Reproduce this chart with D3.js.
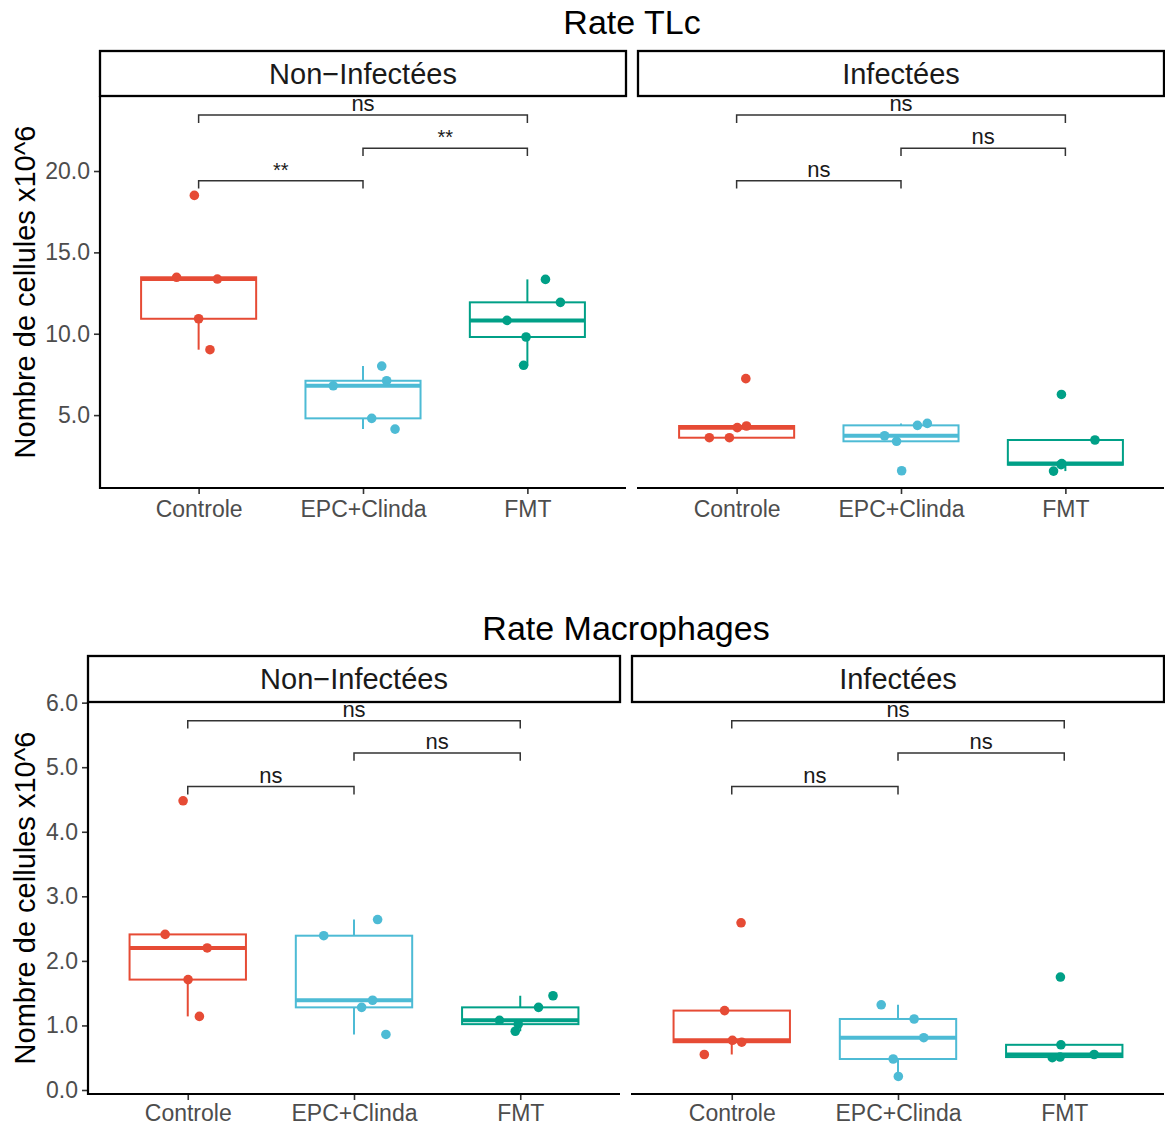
<!DOCTYPE html>
<html><head><meta charset="utf-8">
<script src="https://cdn.jsdelivr.net/npm/d3@7"></script>
<style>
body{margin:0;background:#fff}
svg{display:block}
text{font-family:"Liberation Sans", Arial, sans-serif}
</style>
</head><body>
<svg id="chart" width="1165" height="1129"></svg>
<script>
// ---------- DATA ----------
const categories = ["Controle", "EPC+Clinda", "FMT"];
const facets = ["Non\u2212Infectées", "Infectées"];
const groupColors = ["#E64B35", "#4DBBD5", "#00A087"];

// Rate TLc (x10^6 cells)
const tlcNonInfControle = [18.5, 13.47, 13.36, 10.92, 9.02];
const tlcNonInfEPC      = [8.01, 7.11, 6.80, 4.80, 4.14];
const tlcNonInfFMT      = [13.34, 11.93, 10.82, 9.80, 8.06];
const tlcInfControle    = [7.24, 4.33, 4.23, 3.61, 3.61];
const tlcInfEPC         = [4.49, 4.37, 3.73, 3.39, 1.58];
const tlcInfFMT         = [6.27, 3.47, 2.02, 1.56, 1.95];

// Rate Macrophages (x10^6 cells)
const macNonInfControle = [4.48, 2.41, 2.20, 1.71, 1.14];
const macNonInfEPC      = [2.64, 2.39, 1.39, 1.28, 0.86];
const macNonInfFMT      = [1.46, 1.28, 1.08, 1.02, 0.91];
const macInfControle    = [2.59, 1.23, 0.77, 0.74, 0.55];
const macInfEPC         = [1.32, 1.10, 0.81, 0.48, 0.21];
const macInfFMT         = [1.75, 0.70, 0.55, 0.51, 0.50];

// horizontal jitter of each point (in category units)
const jitterNonInfControle = [-0.026, -0.134, 0.114, 0.000, 0.069];
const jitterNonInfEPC      = [0.114, 0.144, -0.181, 0.053, 0.195];
const jitterNonInfFMT      = [0.110, 0.201, -0.124, -0.008, -0.023];
const jitterInfControle    = [0.056, 0.060, 0.004, -0.166, -0.044];
const jitterInfEPC         = [0.160, 0.100, -0.100, -0.027, 0.004];
const jitterInfFMT         = [-0.024, 0.180, -0.022, -0.072, -0.026];
const jitterMacNonInfControle = [-0.028, -0.136, 0.117, 0.002, 0.070];
const jitterMacNonInfEPC   = [0.142, -0.182, 0.112, 0.046, 0.192];
const jitterMacNonInfFMT   = [0.197, 0.110, -0.125, -0.012, -0.030];
const jitterMacInfControle = [0.056, -0.043, 0.004, 0.060, -0.165];
const jitterMacInfEPC      = [-0.101, 0.097, 0.155, -0.029, 0.002];
const jitterMacInfFMT      = [-0.023, -0.020, 0.180, -0.025, -0.072];

// significance brackets: [from, to, label, y]
const tlcNonInfBrackets = [[0, 2, "ns", 23.44], [1, 2, "**", 21.40], [0, 1, "**", 19.40]];
const tlcInfBrackets    = [[0, 2, "ns", 23.44], [1, 2, "ns", 21.40], [0, 1, "ns", 19.40]];
const macNonInfBrackets = [[0, 2, "ns", 5.72], [1, 2, "ns", 5.22], [0, 1, "ns", 4.70]];
const macInfBrackets    = [[0, 2, "ns", 5.72], [1, 2, "ns", 5.22], [0, 1, "ns", 4.70]];

const tlcTicks = [5, 10, 15, 20];
const macTicks = [0, 1, 2, 3, 4, 5, 6];
const tlcDomain = [0.52, 24.61];
const macDomain = [-0.062, 6.01];
const yTitle = "Nombre de cellules x10^6";

// ---------- CHART DEFINITIONS ----------
const charts = [
  {
    title: "Rate TLc", ticks: tlcTicks, domain: tlcDomain,
    groups: [[tlcNonInfControle, tlcNonInfEPC, tlcNonInfFMT], [tlcInfControle, tlcInfEPC, tlcInfFMT]],
    jitter: [[jitterNonInfControle, jitterNonInfEPC, jitterNonInfFMT], [jitterInfControle, jitterInfEPC, jitterInfFMT]],
    brackets: [tlcNonInfBrackets, tlcInfBrackets],
    L: { titleY: 34, stripTop: 51, top: 96, bottom: 488, panels: [[100, 626], [638, 1164]], yTitleX: 35, tickLabelY: 517 }
  },
  {
    title: "Rate Macrophages", ticks: macTicks, domain: macDomain,
    groups: [[macNonInfControle, macNonInfEPC, macNonInfFMT], [macInfControle, macInfEPC, macInfFMT]],
    jitter: [[jitterMacNonInfControle, jitterMacNonInfEPC, jitterMacNonInfFMT], [jitterMacInfControle, jitterMacInfEPC, jitterMacInfFMT]],
    brackets: [macNonInfBrackets, macInfBrackets],
    L: { titleY: 640, stripTop: 656, top: 702, bottom: 1094, panels: [[88, 620], [632, 1164]], yTitleX: 35, tickLabelY: 1121 }
  }
];

const svg = d3.select("#chart");
const fmt = d3.format(".1f");

charts.forEach(ch => {
  const L = ch.L;
  const g = svg.append("g");
  const y = d3.scaleLinear().domain(ch.domain).range([L.bottom, L.top]);
  const yRange = ch.domain[1] - ch.domain[0];
  const tip = 0.02 * yRange;

  // title
  g.append("text").attr("x", (L.panels[0][0] + L.panels[1][1]) / 2).attr("y", L.titleY)
    .attr("text-anchor", "middle").attr("font-size", 34).attr("fill", "#000").text(ch.title);

  // y axis title
  g.append("text")
    .attr("transform", `translate(${L.yTitleX},${(L.top + L.bottom) / 2}) rotate(-90)`)
    .attr("text-anchor", "middle").attr("font-size", 29).attr("fill", "#000").text(yTitle);

  // y axis (left panel only)
  const yAxis = d3.axisLeft(y).tickValues(ch.ticks).tickFormat(fmt).tickSize(6).tickPadding(4);
  const ya = g.append("g").attr("transform", `translate(${L.panels[0][0]},0)`).call(yAxis);
  ya.select(".domain").remove();
  ya.selectAll(".tick line").attr("stroke", "#333").attr("stroke-width", 1.6);
  ya.selectAll(".tick text").attr("font-size", 23).attr("fill", "#4D4D4D").attr("font-family", "Liberation Sans, Arial, sans-serif");
  g.append("line").attr("x1", L.panels[0][0]).attr("x2", L.panels[0][0])
    .attr("y1", L.top).attr("y2", L.bottom + 1).attr("stroke", "#000").attr("stroke-width", 2.2);

  ch.groups.forEach((grp, fi) => {
    const [x0, x1] = L.panels[fi];
    const x = d3.scalePoint().domain(categories).range([x0, x1]).padding(0.6);
    const step = x.step();
    const pg = g.append("g");

    // strip
    pg.append("rect").attr("x", x0).attr("y", L.stripTop).attr("width", x1 - x0).attr("height", L.top - L.stripTop)
      .attr("fill", "#fff").attr("stroke", "#000").attr("stroke-width", 2.3);
    pg.append("text").attr("x", (x0 + x1) / 2).attr("y", (L.stripTop + L.top) / 2 + 10)
      .attr("text-anchor", "middle").attr("font-size", 29).attr("fill", "#1A1A1A").text(facets[fi]);

    // x axis
    const xAxis = d3.axisBottom(x).tickSize(6).tickPadding(4);
    const xa = pg.append("g").attr("transform", `translate(0,${L.bottom})`).call(xAxis);
    xa.select(".domain").remove();
    xa.selectAll(".tick line").attr("stroke", "#333").attr("stroke-width", 1.6);
    xa.selectAll(".tick text").attr("font-size", 23).attr("fill", "#4D4D4D")
      .attr("font-family", "Liberation Sans, Arial, sans-serif").attr("dy", null)
      .attr("y", L.tickLabelY - L.bottom);
    pg.append("line").attr("x1", x0 - 1).attr("x2", x1).attr("y1", L.bottom).attr("y2", L.bottom)
      .attr("stroke", "#000").attr("stroke-width", 2.2);

    // boxplots
    grp.forEach((vals, ci) => {
      const col = groupColors[ci];
      const cx = x(categories[ci]);
      const s = vals.slice().sort(d3.ascending);
      const q1 = d3.quantile(s, 0.25), med = d3.quantile(s, 0.5), q3 = d3.quantile(s, 0.75);
      const iqr = q3 - q1;
      const lo = d3.min(s.filter(v => v >= q1 - 1.5 * iqr));
      const hi = d3.max(s.filter(v => v <= q3 + 1.5 * iqr));
      const hw = 0.35 * step;
      const bg = pg.append("g");
      if (hi > q3) bg.append("line").attr("x1", cx).attr("x2", cx).attr("y1", y(q3)).attr("y2", y(hi))
        .attr("stroke", col).attr("stroke-width", 2);
      if (lo < q1) bg.append("line").attr("x1", cx).attr("x2", cx).attr("y1", y(q1)).attr("y2", y(lo))
        .attr("stroke", col).attr("stroke-width", 2);
      bg.append("rect").attr("x", cx - hw).attr("y", y(q3)).attr("width", 2 * hw).attr("height", y(q1) - y(q3))
        .attr("fill", "#fff").attr("stroke", col).attr("stroke-width", 2);
      bg.append("line").attr("x1", cx - hw).attr("x2", cx + hw).attr("y1", y(med)).attr("y2", y(med))
        .attr("stroke", col).attr("stroke-width", 4);
      const jit = ch.jitter[fi][ci];
      bg.selectAll("circle").data(vals).join("circle")
        .attr("cx", (d, i) => cx + jit[i] * step).attr("cy", d => y(d)).attr("r", 4.8).attr("fill", col);
    });

    // significance brackets
    ch.brackets[fi].forEach(([a, b, lab, yv]) => {
      const xa1 = x(categories[a]), xb1 = x(categories[b]);
      pg.append("path")
        .attr("d", `M${xa1},${y(yv - tip)}V${y(yv)}H${xb1}V${y(yv - tip)}`)
        .attr("fill", "none").attr("stroke", "#333").attr("stroke-width", 1.5);
      pg.append("text").attr("x", (xa1 + xb1) / 2).attr("y", y(yv) - 4).attr("text-anchor", "middle")
        .attr("font-size", lab === "ns" ? 22 : 20).attr("fill", "#1A1A1A").text(lab);
    });
  });
});
</script>
</body></html>
